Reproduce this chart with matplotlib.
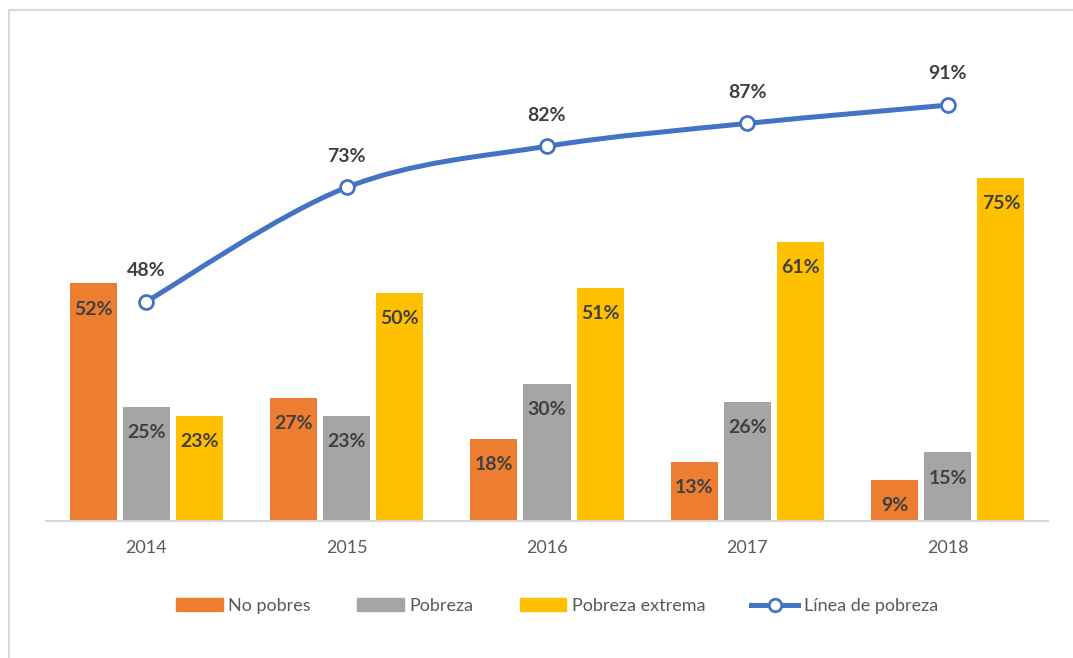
import matplotlib
matplotlib.use('Agg')
import matplotlib.pyplot as plt
import numpy as np
from matplotlib.path import Path
from matplotlib.patches import PathPatch, Patch
from matplotlib.lines import Line2D

plt.rcParams['font.family'] = ['Lato', 'DejaVu Sans']

# Datos
years = ['2014', '2015', '2016', '2017', '2018']
no_pobres = [52, 27, 18, 13, 9]
pobreza = [25, 23, 30, 26, 15]
pobreza_extrema = [23, 50, 51, 61, 75]
linea_pobreza = [48, 73, 82, 87, 91]

c_orange = '#ED7D31'
c_gray = '#A5A5A5'
c_gold = '#FFC000'
c_blue = '#4472C4'
c_label = '#404040'
c_tick = '#595959'

fig = plt.figure(figsize=(10.73, 6.58), dpi=100)
ax = fig.add_axes([46 / 1073, 137 / 658, 1002 / 1073, 457 / 658])

x = np.arange(len(years))
w = 0.235
off = 0.265

series = [(no_pobres, c_orange, -off), (pobreza, c_gray, 0), (pobreza_extrema, c_gold, off)]
for vals, col, dx in series:
    bars = ax.bar(x + dx, vals, width=w, color=col, zorder=2)
    for b, v in zip(bars, vals):
        ax.annotate(f'{v}%', (b.get_x() + b.get_width() / 2, v), xytext=(0, -18.5),
                    textcoords='offset points', ha='center', va='center',
                    fontsize=14, fontweight='bold', color=c_label, zorder=4)

# linea suavizada (curvas Bezier como en Excel)
pts = np.column_stack([x, linea_pobreza]).astype(float)
n = len(pts)
verts = [pts[0]]
codes = [Path.MOVETO]
for i in range(n - 1):
    p0 = pts[i - 1] if i > 0 else pts[i]
    p1 = pts[i]
    p2 = pts[i + 1]
    p3 = pts[i + 2] if i + 2 < n else pts[i + 1]
    verts += [p1 + (p2 - p0) / 6, p2 - (p3 - p1) / 6, p2]
    codes += [Path.CURVE4] * 3
ax.add_patch(PathPatch(Path(verts, codes), fill=False, edgecolor=c_blue,
                       linewidth=3.6, capstyle='round', zorder=3))
ax.plot(x, linea_pobreza, linestyle='none', marker='o', markersize=10,
        markerfacecolor='white', markeredgecolor=c_blue, markeredgewidth=2, zorder=5)
for xi, v in zip(x, linea_pobreza):
    ax.annotate(f'{v}%', (xi, v), xytext=(0, 22.5), textcoords='offset points',
                ha='center', va='center', fontsize=14, fontweight='bold', color=c_label)

ax.set_xlim(-0.5, 4.5)
ax.set_ylim(0, 100)
ax.set_xticks(x)
ax.set_xticklabels(years)
ax.tick_params(axis='x', length=0, pad=14, labelsize=13, labelcolor=c_tick)
ax.set_yticks([])
for s in ['top', 'right', 'left']:
    ax.spines[s].set_visible(False)
ax.spines['bottom'].set_color('#D9D9D9')
ax.spines['bottom'].set_linewidth(1.5)

handles = [Patch(color=c_orange), Patch(color=c_gray), Patch(color=c_gold),
           Line2D([], [], color=c_blue, linewidth=3.6, marker='o', markersize=9,
                  markerfacecolor='white', markeredgecolor=c_blue, markeredgewidth=2)]
labels = ['No pobres', 'Pobreza', 'Pobreza extrema', 'Línea de pobreza']
leg = fig.legend(handles, labels, loc='center', bbox_to_anchor=(557 / 1073, 1 - 606 / 658),
                 ncol=4, frameon=False, fontsize=13, handlelength=2.6, handleheight=0.75,
                 handletextpad=0.3, columnspacing=2.55)
for t in leg.get_texts():
    t.set_color(c_tick)

# borde del grafico
fig.add_artist(Line2D([9 / 1073, 1], [1 - 10 / 658, 1 - 10 / 658], transform=fig.transFigure,
                      color='#D9D9D9', linewidth=1.5))
fig.add_artist(Line2D([9 / 1073, 9 / 1073], [0, 1 - 10 / 658], transform=fig.transFigure,
                      color='#D9D9D9', linewidth=1.5))

fig.savefig('out.png', dpi=100)
